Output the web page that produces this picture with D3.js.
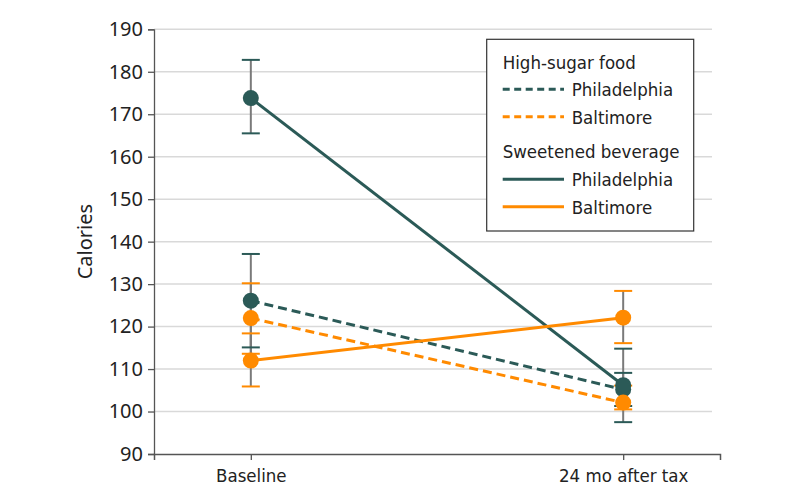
<!DOCTYPE html>
<html>
<head>
<meta charset="utf-8">
<script src="https://cdn.jsdelivr.net/npm/d3@7"></script>
<style>
  body { margin: 0; background: #fff; }
  svg { display: block; }
</style>
</head>
<body>
<div id="chart"></div>
<script>
// values
const categories = ["Baseline", "24 mo after tax"];
const yTicks = [90, 100, 110, 120, 130, 140, 150, 160, 170, 180, 190];

const phillyFood = [126.1, 105.2];
const phillyFoodLow = [115.1, 101.3];
const phillyFoodHigh = [137.1, 109.1];

const baltFood = [122.0, 102.1];
const baltFoodLow = [113.6, 100.5];
const baltFoodHigh = [130.2, 106.1];

const phillyBev = [173.8, 106.2];
const phillyBevLow = [165.5, 97.5];
const phillyBevHigh = [182.8, 114.8];

const baltBev = [112.0, 122.1];
const baltBevLow = [105.9, 116.1];
const baltBevHigh = [118.4, 128.4];

const TEAL = "#2b5a57", ORANGE = "#ff8a00";
const narrow = '"Liberation Sans Narrow", "DejaVu Sans Condensed", sans-serif';
const wide = '"Noto Sans", "Open Sans", sans-serif';

const series = [
  { name: "Philadelphia", group: "food", color: TEAL, dash: "9,5", v: phillyFood, lo: phillyFoodLow, hi: phillyFoodHigh },
  { name: "Baltimore", group: "food", color: ORANGE, dash: "9,5", v: baltFood, lo: baltFoodLow, hi: baltFoodHigh },
  { name: "Philadelphia", group: "bev", color: TEAL, dash: null, v: phillyBev, lo: phillyBevLow, hi: phillyBevHigh },
  { name: "Baltimore", group: "bev", color: ORANGE, dash: null, v: baltBev, lo: baltBevLow, hi: baltBevHigh }
];

const W = 794, H = 504;
const mLeft = 154, mRight = 720, gridRight = 712, mTop = 29.3, mBottom = 454;

const svg = d3.select("#chart").append("svg").attr("width", W).attr("height", H);

const x = d3.scalePoint().domain(categories).range([mLeft, mRight]).padding(0.26);
const y = d3.scaleLinear().domain([90, 190]).range([mBottom, mTop]);

// gridlines
svg.append("g").selectAll("line").data(yTicks.slice(1)).join("line")
  .attr("x1", mLeft).attr("x2", gridRight)
  .attr("y1", d => y(d)).attr("y2", d => y(d))
  .attr("stroke", "#d9d9d9").attr("stroke-width", 1.5);

// y axis
const yAxis = svg.append("g").attr("transform", `translate(${mLeft},0)`)
  .call(d3.axisLeft(y).tickValues(yTicks).tickSize(6).tickPadding(5));
yAxis.select(".domain").attr("stroke", "#555").attr("stroke-width", 1.3);
yAxis.selectAll(".tick line").attr("stroke", "#555").attr("stroke-width", 1.3);
yAxis.selectAll("text").attr("font-family", wide).attr("font-size", 20).attr("fill", "#222");

// x axis
const xAxis = svg.append("g").attr("transform", `translate(0,${mBottom})`)
  .call(d3.axisBottom(x).tickSizeOuter(0).tickSize(6).tickPadding(9));
xAxis.select(".domain").attr("stroke", "#555").attr("stroke-width", 1.5);
xAxis.selectAll(".tick line").attr("stroke", "#555").attr("stroke-width", 1.3);
xAxis.selectAll("text").attr("font-family", narrow).attr("font-size", 18.5).attr("fill", "#222");

svg.append("text")
  .attr("transform", `translate(92,${(mTop + mBottom) / 2}) rotate(-90)`)
  .attr("text-anchor", "middle")
  .attr("font-family", wide).attr("font-size", 20).attr("fill", "#222")
  .text("Calories");

// error bars
const bars = [];
series.forEach(s => categories.forEach((c, i) => bars.push({ s, c, lo: s.lo[i], hi: s.hi[i] })));
const capW = 9;
svg.append("g").selectAll("line").data(bars).join("line")
  .attr("x1", d => x(d.c)).attr("x2", d => x(d.c))
  .attr("y1", d => y(d.lo)).attr("y2", d => y(d.hi))
  .attr("stroke", "#7a7a7a").attr("stroke-width", 2);
const caps = svg.append("g");
bars.forEach(d => {
  [d.lo, d.hi].forEach(v => {
    caps.append("line")
      .attr("x1", x(d.c) - capW).attr("x2", x(d.c) + capW)
      .attr("y1", y(v)).attr("y2", y(v))
      .attr("stroke", d.s.color).attr("stroke-width", 2);
  });
});

// lines
const line = d3.line().x((d, i) => x(categories[i])).y(d => y(d));
svg.append("g").selectAll("path").data(series).join("path")
  .attr("d", d => line(d.v))
  .attr("fill", "none")
  .attr("stroke", d => d.color)
  .attr("stroke-width", 3)
  .attr("stroke-dasharray", d => d.dash);

// points
series.forEach(s => {
  svg.append("g").selectAll("circle").data(s.v).join("circle")
    .attr("cx", (d, i) => x(categories[i])).attr("cy", d => y(d))
    .attr("r", 8).attr("fill", s.color);
});

// legend
const lg = svg.append("g");
lg.append("rect").attr("x", 486.7).attr("y", 39.3).attr("width", 207).attr("height", 191.7)
  .attr("fill", "#fff").attr("stroke", "#333").attr("stroke-width", 1.2);
const legendRows = [
  { title: "High-sugar food", y: 69 },
  { item: series[0], y: 89.3 },
  { item: series[1], y: 116.7 },
  { title: "Sweetened beverage", y: 158 },
  { item: series[2], y: 179.3 },
  { item: series[3], y: 206.7 }
];
legendRows.forEach(r => {
  if (r.title) {
    lg.append("text").attr("x", 502.7).attr("y", r.y)
      .attr("font-family", narrow).attr("font-size", 18.5).attr("fill", "#222").text(r.title);
  } else {
    lg.append("line").attr("x1", 502.7).attr("x2", 564).attr("y1", r.y).attr("y2", r.y)
      .attr("stroke", r.item.color).attr("stroke-width", 3)
      .attr("stroke-dasharray", r.item.dash ? "7,4.5" : null);
    lg.append("text").attr("x", 571.7).attr("y", r.y + 7)
      .attr("font-family", narrow).attr("font-size", 18.5).attr("fill", "#222").text(r.item.name);
  }
});
</script>
</body>
</html>
